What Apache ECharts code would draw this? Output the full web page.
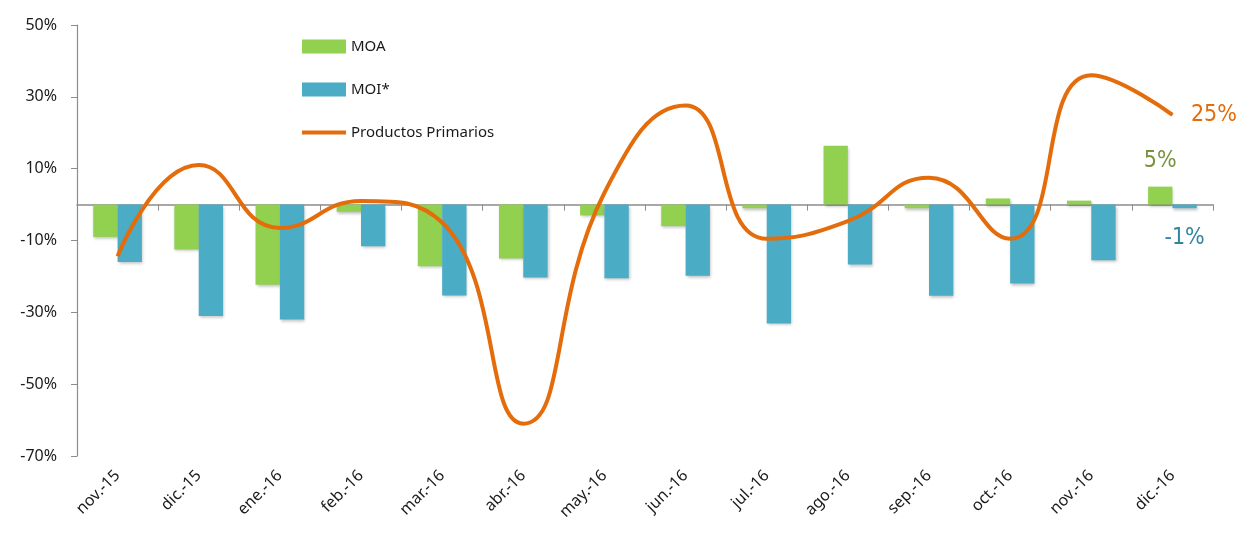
<!DOCTYPE html>
<html>
<head>
<meta charset="utf-8">
<script src="https://cdn.jsdelivr.net/npm/echarts@6/dist/echarts.min.js"></script>
<style>
  html, body { margin: 0; padding: 0; background: #fff; }
  #chart { width: 1239px; height: 536px; }
</style>
</head>
<body>
<div id="chart"></div>
<script>
// meses
var categories = ['nov.-15', 'dic.-15', 'ene.-16', 'feb.-16', 'mar.-16', 'abr.-16', 'may.-16',
                  'jun.-16', 'jul.-16', 'ago.-16', 'sep.-16', 'oct.-16', 'nov.-16', 'dic.-16'];
// variación interanual (%)
var moa = [-9, -12.5, -22.3, -2, -17.2, -15, -3, -6, -1, 16.4, -1, 1.7, 1.1, 5];
var moi = [-16, -31, -32, -11.6, -25.3, -20.3, -20.5, -19.8, -33.1, -16.7, -25.4, -22, -15.5, -1];
var primarios = [-14.4, 11, -6.5, 1, -5, -61, 3.3, 27.6, -9.5, -4.6, 7.5, -9.5, 36, 25];

var yMin = -70, yMax = 50, yStep = 20;

var FONT = 'Noto Sans';
var NARROW = "'Liberation Sans Narrow', 'DejaVu Sans Condensed', sans-serif";
var last = categories.length - 1;

// solo el último punto lleva etiqueta
function lastLabel(arr, extra) {
    return arr.map(function (v, i) {
        if (i !== last) return v;
        return Object.assign({ value: v }, extra);
    });
}

var chart = echarts.init(document.getElementById('chart'), null, { renderer: 'canvas' });

var barShadow = {
    shadowBlur: 3,
    shadowOffsetX: 1,
    shadowOffsetY: 2,
    shadowColor: 'rgba(0,0,0,0.25)'
};

var option = {
    backgroundColor: '#fff',
    animation: false,
    grid: { left: 77, right: 26, top: 25, bottom: 80, containLabel: false },
    legend: {
        orient: 'vertical',
        left: 295,
        top: 34,
        itemWidth: 44,
        itemHeight: 14,
        itemGap: 28,
        textStyle: { fontFamily: FONT, fontSize: 15, color: '#1a1a1a' },
        data: [
            { name: 'MOA', icon: 'rect' },
            { name: 'MOI*', icon: 'rect' },
            {
                name: 'Productos Primarios',
                itemStyle: { opacity: 0 },
                lineStyle: { width: 4, color: '#E46C0A' }
            }
        ]
    },
    xAxis: [{
        type: 'category',
        data: categories,
        axisLine: { onZero: true, lineStyle: { color: '#8c8c8c', width: 1.5 } },
        axisTick: { show: true, length: 6, lineStyle: { color: '#8c8c8c' } },
        axisLabel: { show: false }
    }, {
        type: 'category',
        data: categories,
        position: 'bottom',
        axisLine: { show: false, onZero: false },
        axisTick: { show: false },
        axisLabel: {
            rotate: 45,
            margin: 17,
            interval: 0,
            fontFamily: FONT,
            fontSize: 16,
            color: '#1a1a1a'
        }
    }],
    yAxis: {
        type: 'value',
        min: yMin,
        max: yMax,
        interval: yStep,
        splitLine: { show: false },
        axisLine: { show: true, lineStyle: { color: '#8c8c8c', width: 1.2 } },
        axisTick: { show: true, length: 6, lineStyle: { color: '#8c8c8c' } },
        axisLabel: {
            margin: 20,
            fontFamily: FONT,
            fontSize: 16,
            color: '#1a1a1a',
            formatter: '{value}%'
        }
    },
    series: [{
        name: 'MOA',
        type: 'bar',
        xAxisIndex: 0,
        barGap: '0%',
        barCategoryGap: '40%',
        itemStyle: Object.assign({ color: '#92D050' }, barShadow),
        label: { show: false },
        data: lastLabel(moa, {
            label: {
                show: true, position: 'top', distance: 14,
                formatter: '{c}%', color: '#77933C',
                fontFamily: NARROW, fontSize: 23
            }
        })
    }, {
        name: 'MOI*',
        type: 'bar',
        xAxisIndex: 0,
        itemStyle: Object.assign({ color: '#4BACC6' }, barShadow),
        label: { show: false },
        data: lastLabel(moi, {
            label: {
                show: true, position: 'bottom', distance: 18,
                formatter: '{c}%', color: '#31859C',
                fontFamily: NARROW, fontSize: 23
            }
        })
    }, {
        name: 'Productos Primarios',
        type: 'line',
        xAxisIndex: 0,
        smooth: 0.5,
        symbol: 'none',
        z: 5,
        lineStyle: { color: '#E46C0A', width: 4 },
        itemStyle: { color: '#E46C0A' },
        label: { show: false },
        data: lastLabel(primarios, {
            symbol: 'circle',
            symbolSize: 1,
            label: {
                show: true, position: 'right', distance: 18,
                formatter: '{c}%', color: '#E46C0A',
                fontFamily: NARROW, fontSize: 23
            }
        })
    }]
};

chart.setOption(option);
</script>
</body>
</html>
